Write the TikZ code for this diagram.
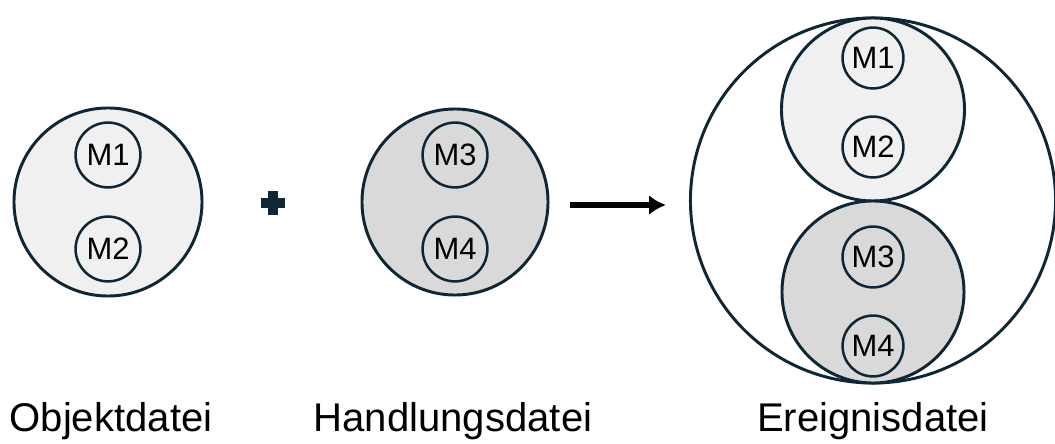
\documentclass[tikz,border=0pt]{standalone}
\usepackage{fontspec}
\setmainfont{Liberation Sans}
\usetikzlibrary{arrows.meta}
\definecolor{rand}{HTML}{0F2635}
\definecolor{hell}{HTML}{F0F0F0}
\definecolor{mittel}{HTML}{D9D9D9}

\begin{document}
\begin{tikzpicture}[x=0.025cm, y=0.025cm,
    kreis/.style={circle, draw=rand, line width=2.1pt, inner sep=0pt},
    modul/.style={circle, draw=rand, line width=1.8pt, inner sep=0pt,
      minimum size=1.62cm, font=\fontsize{22}{26}\selectfont},
    titel/.style={anchor=base, font=\fontsize{28.5}{34}\selectfont},
    pfeil/.style={-{Latex[length=12pt,width=14pt]}, line width=4pt}]
  \useasboundingbox (0,0) rectangle (1055,443);

  % Objektdatei
  \node[kreis, fill=hell, minimum size=4.7cm] (objekt) at (108,241) {};
  \node[modul, fill=hell] (o1) at (108,288) {M1};
  \node[modul, fill=hell] (o2) at (108,194) {M2};

  % Plus
  \coordinate (plus) at (273,240);
  \fill[rand] ([shift={(-12,-5)}]plus) rectangle ([shift={(12,5)}]plus);
  \fill[rand] ([shift={(-5,-12)}]plus) rectangle ([shift={(5,12)}]plus);

  % Handlungsdatei
  \node[kreis, fill=mittel, minimum size=4.65cm] (handlung) at (455,241) {};
  \node[modul, fill=mittel] (h3) at (455,288) {M3};
  \node[modul, fill=mittel] (h4) at (455,194) {M4};

  % Ereignisdatei
  \node[kreis, fill=white, minimum size=9.125cm] (ereignis) at (873,242.5) {};
  \node[kreis, fill=hell, minimum size=4.575cm] (oben) at (873,333.5) {};
  \node[kreis, fill=mittel, minimum size=4.55cm] (unten) at (873,151) {};
  \node[modul, fill=hell, minimum size=1.52cm] (e1) at (873,385) {M1};
  \node[modul, fill=hell, minimum size=1.52cm] (e2) at (873,296) {M2};
  \node[modul, fill=mittel, minimum size=1.52cm] (e3) at (873,186) {M3};
  \node[modul, fill=mittel, minimum size=1.52cm] (e4) at (873,97) {M4};

  % Pfeil
  \draw[pfeil] ([xshift=0.5cm,yshift=-0.075cm]handlung.east) -- ([xshift=-0.575cm,yshift=-0.075cm]handlung.east -| ereignis.west);

  % Beschriftung
  \node[titel] (t1) at (111,12) {Objektdatei};
  \node[titel] (t2) at (453,12) {Handlungsdatei};
  \node[titel] (t3) at (873,12) {Ereignisdatei};
\end{tikzpicture}
\end{document}
